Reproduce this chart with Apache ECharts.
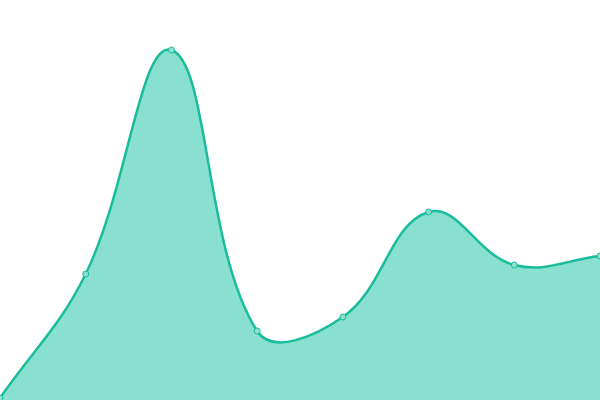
<!DOCTYPE html>
<html><head><meta charset="utf-8">
<style>html,body{margin:0;padding:0;background:#fff}#c{width:600px;height:400px}</style>
<script src="https://cdn.jsdelivr.net/npm/echarts@6/dist/echarts.min.js"></script>
</head><body><div id="c"></div>
<script>
const categories = ['1','2','3','4','5','6','7','8'];
const values = [2, 126, 350, 69, 83, 188, 135, 144];
const tension = 0.4;

function buildPath(pts, area) {
  const cps = pts.map((cur, i) => {
    const prev = pts[i - 1] || cur, next = pts[i + 1] || cur;
    const d01 = Math.hypot(cur[0] - prev[0], cur[1] - prev[1]);
    const d12 = Math.hypot(next[0] - cur[0], next[1] - cur[1]);
    let s01 = d01 / (d01 + d12), s12 = d12 / (d01 + d12);
    if (isNaN(s01)) s01 = 0; if (isNaN(s12)) s12 = 0;
    const fa = tension * s01, fb = tension * s12;
    const clamp = p => [Math.max(area.x0, Math.min(area.x1, p[0])), Math.max(area.y0, Math.min(area.y1, p[1]))];
    return {
      prev: clamp([cur[0] - fa * (next[0] - prev[0]), cur[1] - fa * (next[1] - prev[1])]),
      next: clamp([cur[0] + fb * (next[0] - prev[0]), cur[1] + fb * (next[1] - prev[1])])
    };
  });
  let d = 'M' + pts[0][0] + ' ' + pts[0][1];
  for (let i = 1; i < pts.length; i++) {
    const a = cps[i - 1].next, b = cps[i].prev, p = pts[i];
    d += ' C' + a[0] + ' ' + a[1] + ' ' + b[0] + ' ' + b[1] + ' ' + p[0] + ' ' + p[1];
  }
  return d;
}

const chart = echarts.init(document.getElementById('c'));
chart.setOption({
  animation: false,
  grid: {left: 0, right: 0, top: 0, bottom: 0},
  xAxis: {type: 'category', data: categories, boundaryGap: false, show: false},
  yAxis: {type: 'value', min: 0, max: 400, show: false},
  series: [{
    type: 'custom',
    data: values.map((v, i) => [i, v]),
    clip: true,
    renderItem: function (params, api) {
      if (params.dataIndex !== 0) return null;
      const pts = values.map((v, i) => api.coord([i, v]));
      const cs = params.coordSys;
      const area = {x0: cs.x, x1: cs.x + cs.width, y0: cs.y, y1: cs.y + cs.height};
      const line = buildPath(pts, area);
      const base = api.coord([0, 0])[1];
      const fill = line + ' L' + pts[pts.length - 1][0] + ' ' + base + ' L' + pts[0][0] + ' ' + base + ' Z';
      const children = [
        {type: 'path', shape: {pathData: fill}, style: {fill: '#8ae0cf', stroke: null}},
        {type: 'path', shape: {pathData: line}, style: {fill: null, stroke: '#1abc9c', lineWidth: 2.5}}
      ];
      pts.forEach(p => children.push({
        type: 'circle', shape: {cx: p[0], cy: p[1], r: 3},
        style: {fill: '#8ae0cf', stroke: '#1abc9c', lineWidth: 1}
      }));
      return {type: 'group', children: children};
    }
  }]
});
</script></body></html>
